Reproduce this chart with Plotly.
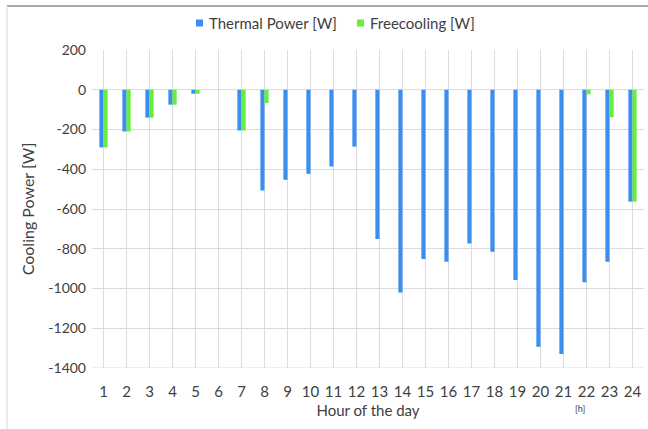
import plotly.graph_objects as go

hours = [str(h) for h in range(1, 25)]
thermal = [-290, -210, -140, -75, -20, 0, -205, -507, -453, -423, -386, -286,
           -751, -1020, -851, -865, -773, -815, -957, -1293, -1330, -969, -865, -563]
freecooling = [-290, -210, -140, -75, -20, 0, -205, -67, 0, 0, 0, 0,
               0, 0, 0, 0, 0, 0, 0, 0, 0, -22, -138, -563]
y_ticks = [200, 0, -200, -400, -600, -800, -1000, -1200, -1400]
y_tick_labels = ["200", "0", "-200", "-400", "-600", "-800", "-1000", "-1200", "-1400"]
series_names = ["Thermal Power [W]", "Freecooling [W]"]
series_colors = ["#3A8EF0", "#66EE3C"]

FONT = "Lato"
TXT = "#404040"

fig = go.Figure()
fig.add_trace(go.Bar(x=hours, y=thermal, name=series_names[0],
                     marker=dict(color=series_colors[0], line=dict(width=0))))
fig.add_trace(go.Bar(x=hours, y=freecooling, name=series_names[1],
                     marker=dict(color=series_colors[1], line=dict(width=0))))

# manual legend (paper coordinates)
legend_shapes = []
legend_annos = []
for name, col, sx, tx in zip(series_names, series_colors, [0.1884, 0.4801], [0.2083, 0.5]):
    legend_shapes.append(dict(type="rect", xref="paper", yref="paper",
                              x0=sx, x1=sx + 0.0127, y0=1.0739, y1=1.0959,
                              fillcolor=col, line=dict(width=0)))
    legend_annos.append(dict(text=name, xref="paper", yref="paper", x=tx, y=1.0849,
                             xanchor="left", yanchor="middle", showarrow=False,
                             font=dict(family=FONT, size=15, color=TXT)))

fig.update_layout(
    width=648, height=429,
    margin=dict(l=92, r=4, t=50, b=61, autoexpand=False),
    paper_bgcolor="white", plot_bgcolor="white",
    barmode="group", bargap=0.64, bargroupgap=0,
    showlegend=False,
    font=dict(family=FONT, size=12, color=TXT),
    xaxis=dict(type="category", showgrid=True, gridcolor="#DCDCDC", gridwidth=1,
               showline=False, ticks="", tickfont=dict(size=15, color=TXT), automargin=False,
               ticklabelstandoff=13,
               title=dict(text="Hour of the day", font=dict(size=15, color=TXT), standoff=6),
               range=[-0.5, 23.5]),
    yaxis=dict(range=[-1400, 200], tickvals=y_ticks, ticktext=y_tick_labels,
               showgrid=True, gridcolor="#DCDCDC",
               zeroline=True, zerolinecolor="#DCDCDC", zerolinewidth=1, automargin=False,
               showline=False, ticks="", tickfont=dict(size=14, color=TXT),
               ticklabelstandoff=5,
               title=dict(text="Cooling Power [W]", font=dict(size=16, color=TXT), standoff=9)),
    shapes=[
        dict(type="line", xref="paper", yref="paper", x0=-0.154, x1=1.01, y0=1.138, y1=1.138,
             line=dict(color="#A8A8A8", width=2)),
        dict(type="line", xref="paper", yref="paper", x0=-0.154, x1=-0.154, y0=1.138, y1=-0.2,
             line=dict(color="#E4E4E4", width=1.5)),
        dict(type="line", xref="paper", yref="y", x0=0, x1=1, y0=-1400, y1=-1400,
             line=dict(color="#DCDCDC", width=1)),
    ] + legend_shapes,
    annotations=[
        dict(text="[h]", xref="paper", yref="paper", x=0.884, y=-0.1258, showarrow=False,
             font=dict(size=9, color=TXT), xanchor="center", yanchor="middle"),
    ] + legend_annos,
)

fig.write_html("out.html", config={"displayModeBar": False},
               post_script="document.body.style.margin='0';document.body.style.overflow='hidden';")
